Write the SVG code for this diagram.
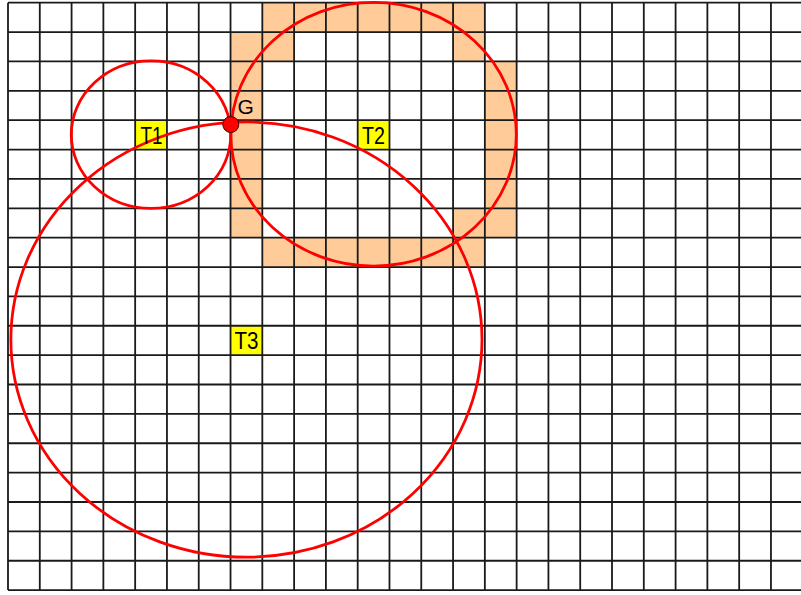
<svg xmlns="http://www.w3.org/2000/svg" width="801" height="595" viewBox="0 0 801 595">
<style>
.cell{fill:#ffcc99}
.lab{fill:#ffff00}
.grid{stroke:#1a1a1a;stroke-width:1.8;fill:none;vector-effect:non-scaling-stroke}
.circ{stroke:#ff0000;stroke-width:2.8;fill:none;vector-effect:non-scaling-stroke}
.t{font-family:"Liberation Sans",Arial,sans-serif;fill:#000}
</style>
<rect width="801" height="595" fill="#ffffff"/>
<g id="plane" transform="translate(8,2.7) scale(31.79,29.37)">
<g id="cells">
<rect class="cell" x="8" y="0" width="7" height="1"/>
<rect class="cell" x="7" y="1" width="2" height="1"/>
<rect class="cell" x="14" y="1" width="1" height="1"/>
<rect class="cell" x="7" y="2" width="1" height="6"/>
<rect class="cell" x="15" y="2" width="1" height="6"/>
<rect class="cell" x="14" y="7" width="1" height="1"/>
<rect class="cell" x="8" y="8" width="7" height="1"/>
</g>
<g id="labelboxes">
<rect class="lab" x="4" y="4" width="1" height="1"/>
<rect class="lab" x="11" y="4" width="1" height="1"/>
<rect class="lab" x="7" y="11" width="1" height="1"/>
</g>
<path id="grid" class="grid" d="M0 0V20M1 0V20M2 0V20M3 0V20M4 0V20M5 0V20M6 0V20M7 0V20M8 0V20M9 0V20M10 0V20M11 0V20M12 0V20M13 0V20M14 0V20M15 0V20M16 0V20M17 0V20M18 0V20M19 0V20M20 0V20M21 0V20M22 0V20M23 0V20M24 0V20M0 0H25M0 1H25M0 2H25M0 3H25M0 4H25M0 5H25M0 6H25M0 7H25M0 8H25M0 9H25M0 10H25M0 11H25M0 12H25M0 13H25M0 14H25M0 15H25M0 16H25M0 17H25M0 18H25M0 19H25M0 20H25"/>
<g id="circles">
<circle id="c-T1" class="circ" cx="4.5" cy="4.49" r="2.51"/>
<circle id="c-T2" class="circ" cx="11.5" cy="4.48" r="4.49"/>
<circle id="c-T3" class="circ" cx="7.5" cy="11.47" r="7.41"/>
</g>
</g>
<g id="labels">
<text class="t" x="140.5" y="143.5" font-size="23" textLength="22" lengthAdjust="spacingAndGlyphs">T1</text>
<text class="t" x="362" y="143.5" font-size="23" textLength="23" lengthAdjust="spacingAndGlyphs">T2</text>
<text class="t" x="234.5" y="349" font-size="23" textLength="24" lengthAdjust="spacingAndGlyphs">T3</text>
</g>
<g id="G">
<circle cx="230.8" cy="124.5" r="8" fill="#ff0000" stroke="#4a0000" stroke-width="1"/>
<text class="t" x="237.5" y="113.5" font-size="21">G</text>
</g>
</svg>
